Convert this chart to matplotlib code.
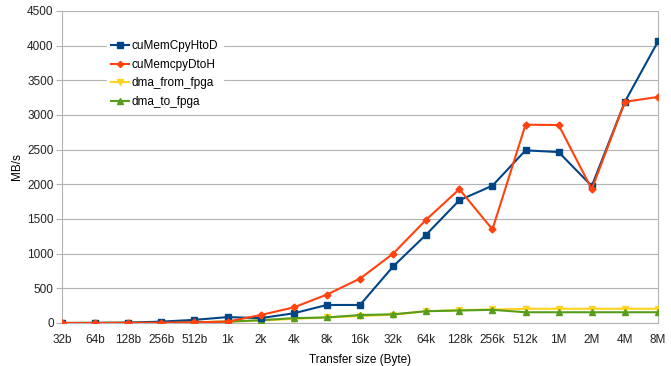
"""Transfer bandwidth vs. transfer size."""

import matplotlib
matplotlib.use("Agg")
import numpy as np
from matplotlib import pyplot as plt

sizes = ["32b", "64b", "128b", "256b", "512b", "1k", "2k", "4k", "8k", "16k",
         "32k", "64k", "128k", "256k", "512k", "1M", "2M", "4M", "8M"]

htod = [0, 2, 5, 20, 45, 85, 70, 140, 260, 260,
        815, 1275, 1770, 1980, 2490, 2465, 1975, 3190, 4060]
dtoh = [0, 0, 2, 5, 10, 20, 115, 225, 410, 640,
        1000, 1490, 1930, 1350, 2860, 2855, 1930, 3190, 3260]
from_fpga = [0, 1, 2, 5, 10, 20, 35, 60, 80, 100,
             120, 170, 185, 195, 205, 205, 205, 205, 205]
to_fpga = [0, 1, 2, 5, 10, 20, 40, 70, 80, 115,
           125, 170, 180, 190, 155, 155, 155, 155, 155]

plt.rcParams["font.family"] = ["Liberation Sans", "DejaVu Sans"]

fig = plt.figure(figsize=(6.71, 3.66), dpi=100)
ax = fig.add_axes([0.0924, 0.1175, 0.8882, 0.8525])

x = np.arange(len(sizes))
ax.plot(x, htod, color="#004586", marker="s", markersize=5, linewidth=1.5,
        label="cuMemCpyHtoD", zorder=4)
ax.plot(x, dtoh, color="#ff420e", marker="D", markersize=3.5, linewidth=1.5,
        label="cuMemcpyDtoH", zorder=5)
ax.plot(x, from_fpga, color="#ffd320", marker="v", markersize=5, linewidth=1.5,
        label="dma_from_fpga", zorder=3)
ax.plot(x, to_fpga, color="#579d1c", marker="^", markersize=5, linewidth=1.5,
        label="dma_to_fpga", zorder=3)

ax.set_xlim(0, len(sizes) - 1)
ax.set_ylim(0, 4500)
ax.set_xticks(x)
ax.set_xticklabels(sizes)
ax.set_yticks(np.arange(0, 4501, 500))
ax.tick_params(axis="both", labelsize=8.5, colors="#b3b3b3", labelcolor="#222222")
ax.tick_params(axis="x", length=0, pad=8)
ax.tick_params(axis="y", length=4, pad=2)
ax.grid(axis="y", color="#b3b3b3", linewidth=0.8)
ax.set_axisbelow(True)
for side in ["left", "right", "top", "bottom"]:
    ax.spines[side].set_color("#b3b3b3")
ax.spines["top"].set_visible(False)

ax.set_xlabel("Transfer size (Byte)", fontsize=8.5, labelpad=6)
ax.set_ylabel("MB/s", fontsize=8.5, labelpad=3)

leg = ax.legend(loc="upper left", bbox_to_anchor=(0.065, 0.94), frameon=True,
                fontsize=8.5, handlelength=1.5, handletextpad=0.2,
                labelspacing=0.55, borderpad=0.4, markerscale=0.9)
leg.get_frame().set_edgecolor("white")
leg.get_frame().set_facecolor("white")
leg.get_frame().set_alpha(1)

fig.savefig("out.png", dpi=100)
